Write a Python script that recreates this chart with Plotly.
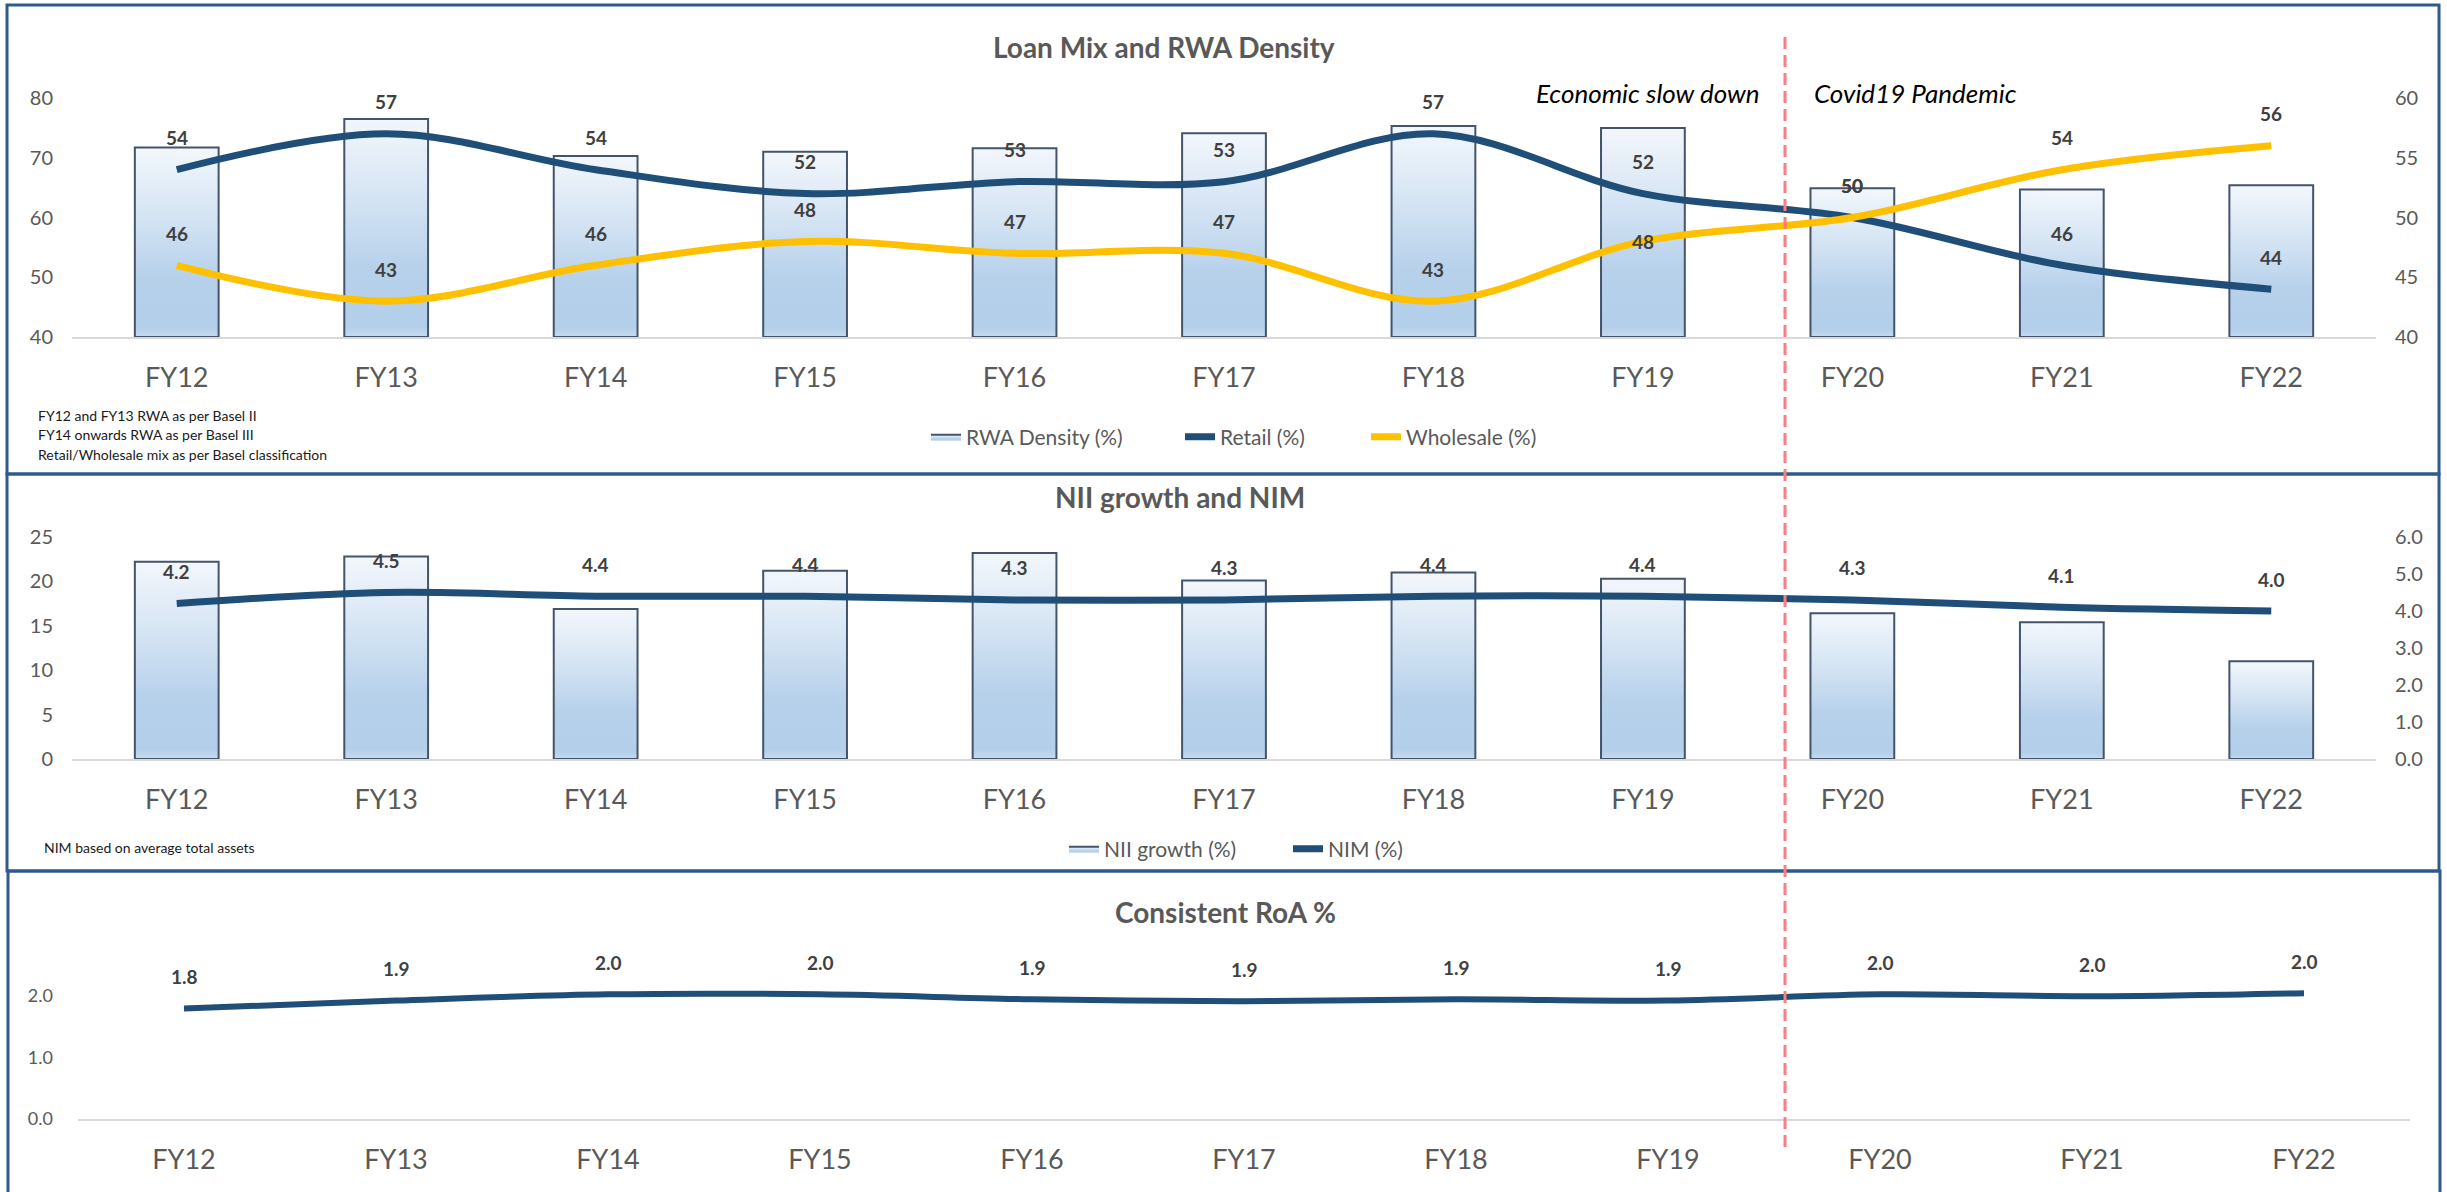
import plotly.graph_objects as go

# ---------------------------------------------------------------- data
years = ["FY12", "FY13", "FY14", "FY15", "FY16", "FY17",
         "FY18", "FY19", "FY20", "FY21", "FY22"]

rwa_density = [71.7, 76.5, 70.3, 71.0, 71.6, 74.1, 75.3, 75.0, 64.9, 64.7, 65.4]
retail_pct = [54, 57, 54, 52, 53, 53, 57, 52, 50, 46, 44]
wholesale_pct = [46, 43, 46, 48, 47, 47, 43, 48, 50, 54, 56]

nii_growth = [22.2, 22.8, 16.9, 21.2, 23.2, 20.1, 21.0, 20.3, 16.4, 15.4, 11.0]
nim_pct = [4.2, 4.5, 4.4, 4.4, 4.3, 4.3, 4.4, 4.4, 4.3, 4.1, 4.0]

roa_pct = [1.79, 1.92, 2.02, 2.02, 1.94, 1.91, 1.94, 1.92, 2.02, 1.99, 2.04]

loan_notes = ["FY12 and FY13 RWA as per Basel II",
              "FY14 onwards RWA as per Basel III",
              "Retail/Wholesale mix as per Basel classification"]
nim_note = "NIM based on average total assets"

# ---------------------------------------------------------------- styling
W, H = 2447, 1192
FONT = "Lato"
GREY = "#595959"
LABEL_GREY = "#404040"
NAVY = "#1F4E79"
GOLD = "#FFC000"
BAR_EDGE = "#44546A"
BORDER = "#2F5A8C"
BAR_HALF = 0.2
BAR_SCALE = [[0.0, "#C6DAEF"], [0.05, "#B3CFEA"], [0.32, "#B7D1EB"],
             [0.62, "#D3E3F3"], [1.0, "#F3F7FC"]]


def px(x):
    return x / W


def py(y):
    return 1 - y / H


fig = go.Figure()


def add_bars(values, base, xa, ya, name, legend):
    # each column is a closed outline filled with a vertical gradient
    for i, v in enumerate(values):
        fig.add_trace(go.Scatter(
            x=[i - BAR_HALF, i - BAR_HALF, i + BAR_HALF, i + BAR_HALF, i - BAR_HALF],
            y=[base, v, v, base, base],
            mode="lines", fill="toself",
            fillgradient=dict(type="vertical", colorscale=BAR_SCALE),
            line=dict(color=BAR_EDGE, width=2),
            xaxis=xa, yaxis=ya, name=name, legend=legend, legendgroup=name,
            showlegend=(i == 0), hoverinfo="skip"))


def add_line(values, color, xa, ya, name, legend, width=7, show=True):
    fig.add_trace(go.Scatter(
        x=list(range(len(values))), y=values, mode="lines",
        line=dict(color=color, width=width, shape="spline", smoothing=1.0),
        xaxis=xa, yaxis=ya, name=name, legend=legend, showlegend=show,
        hoverinfo="skip"))


def add_value_labels(values, xref, yref, fmt, shifts=None):
    shifts = shifts or {}
    for i, v in enumerate(values):
        fig.add_annotation(
            x=i, y=v, xref=xref, yref=yref, text=fmt.format(v),
            showarrow=False, yshift=shifts.get(i, 32),
            font=dict(family=FONT, size=19, color=LABEL_GREY, weight="bold"))


# panel 1: loan mix and RWA density
add_bars(rwa_density, 40, "x", "y", "RWA Density (%)", "legend")
add_line(retail_pct, NAVY, "x", "y2", "Retail (%)", "legend2")
add_line(wholesale_pct, GOLD, "x", "y2", "Wholesale (%)", "legend3")
add_value_labels(retail_pct, "x", "y2", "{:d}")
add_value_labels(wholesale_pct, "x", "y2", "{:d}", shifts={7: 0})

# panel 2: NII growth and NIM
add_bars(nii_growth, 0, "x2", "y3", "NII growth (%)", "legend4")
add_line(nim_pct, NAVY, "x2", "y4", "NIM (%)", "legend5")
add_value_labels(nim_pct, "x2", "y4", "{:.1f}")

# panel 3: RoA
add_line(roa_pct, NAVY, "x3", "y5", "RoA (%)", "legend", width=6, show=False)
add_value_labels(roa_pct, "x3", "y5", "{:.1f}")

# ---------------------------------------------------------------- axes
x_common = dict(range=[-0.5, len(years) - 0.5], tickvals=list(range(len(years))),
                ticktext=years, showgrid=False, zeroline=False, ticks="",
                showline=True, linecolor="#D9D9D9", linewidth=2,
                tickfont=dict(family=FONT, size=27, color=GREY),
                ticklabelstandoff=16, fixedrange=True)
y_common = dict(showgrid=False, zeroline=False, ticks="", showline=False,
                tickfont=dict(family=FONT, size=20, color=GREY),
                ticklabelstandoff=18, fixedrange=True)

fig.update_layout(
    xaxis=dict(domain=[px(72), px(2376)], anchor="y", **x_common),
    yaxis=dict(domain=[py(337), py(98)], range=[40, 80], dtick=10, **y_common),
    yaxis2=dict(overlaying="y", side="right", anchor="x", range=[40, 60], dtick=5,
                **y_common),
    xaxis2=dict(domain=[px(72), px(2376)], anchor="y3", **x_common),
    yaxis3=dict(domain=[py(759), py(537)], range=[0, 25], dtick=5, **y_common),
    yaxis4=dict(overlaying="y3", side="right", anchor="x2", range=[0, 6], dtick=1,
                tickformat=".1f", **y_common),
    xaxis3=dict(domain=[px(78), px(2410)], anchor="y5", **x_common),
    yaxis5=dict(domain=[py(1119), py(964.75)], range=[0, 2.5], tickvals=[0, 1, 2],
                tickformat=".1f",
                **{**y_common, "tickfont": dict(family=FONT, size=18, color=GREY)}),
)

# ---------------------------------------------------------------- legends (one entry each)
legend_style = dict(orientation="h", xanchor="left", yanchor="middle",
                    bgcolor="rgba(0,0,0,0)", font=dict(family=FONT, size=21, color=GREY),
                    itemwidth=30)
fig.update_layout(
    legend=dict(x=px(926), y=py(437), **legend_style),
    legend2=dict(x=px(1180), y=py(437), **legend_style),
    legend3=dict(x=px(1366), y=py(437), **legend_style),
    legend4=dict(x=px(1064), y=py(849), **legend_style),
    legend5=dict(x=px(1288), y=py(849), **legend_style),
)

# ---------------------------------------------------------------- titles and notes
titles = [("Loan Mix and RWA Density", 1164, 47),
          ("NII growth and NIM", 1180, 497),
          ("Consistent RoA %", 1225, 912)]
for text, cx, cy in titles:
    fig.add_annotation(x=px(cx), y=py(cy), xref="paper", yref="paper", text=text,
                       showarrow=False, xanchor="center", yanchor="middle",
                       font=dict(family=FONT, size=28, color=GREY, weight="bold"))

for k, note in enumerate(loan_notes):
    fig.add_annotation(x=px(36), y=py(415 + 19.5 * k), xref="paper", yref="paper",
                       text=note, showarrow=False, xanchor="left", yanchor="middle",
                       font=dict(family=FONT, size=14, color="#1A1A1A"))
fig.add_annotation(x=px(42), y=py(847), xref="paper", yref="paper", text=nim_note,
                   showarrow=False, xanchor="left", yanchor="middle",
                   font=dict(family=FONT, size=14, color="#1A1A1A"))

fig.add_annotation(x=px(1762), y=py(93), xref="paper", yref="paper",
                   text="Economic slow down", showarrow=False,
                   xanchor="right", yanchor="middle",
                   font=dict(family=FONT, size=26, color="#000000", style="italic"))
fig.add_annotation(x=px(1812), y=py(93), xref="paper", yref="paper",
                   text="Covid19 Pandemic", showarrow=False,
                   xanchor="left", yanchor="middle",
                   font=dict(family=FONT, size=26, color="#000000", style="italic"))

# ---------------------------------------------------------------- panel frames and divider
for x0, x1, y0, y1 in [(7, 2439, 5, 474), (7, 2439, 474, 871), (8, 2440, 871, 1200)]:
    fig.add_shape(type="rect", xref="paper", yref="paper",
                  x0=px(x0), x1=px(x1), y0=py(y1), y1=py(y0),
                  line=dict(color=BORDER, width=3), fillcolor="rgba(0,0,0,0)",
                  layer="above")

fig.add_shape(type="line", xref="paper", yref="paper",
              x0=px(1785), x1=px(1785), y0=py(1147), y1=py(35),
              line=dict(color="#FF7C80", width=3, dash="12px,6px"), layer="above")

fig.update_layout(
    width=W, height=H,
    margin=dict(l=0, r=0, t=0, b=0, autoexpand=False),
    paper_bgcolor="white", plot_bgcolor="white",
    font=dict(family=FONT, color=GREY),
    hovermode=False,
)

fig.write_html("out.html", config={"displayModeBar": False})
